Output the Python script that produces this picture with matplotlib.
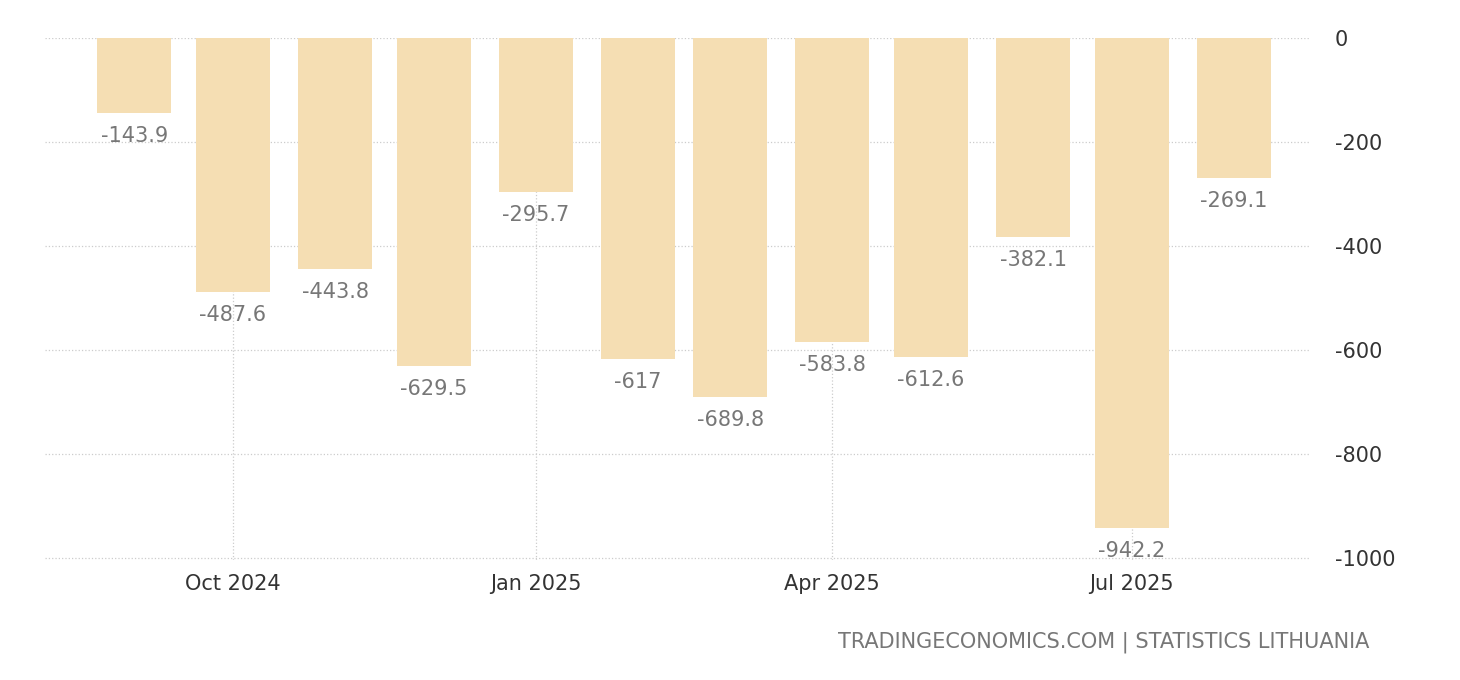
import matplotlib
matplotlib.use("Agg")
import matplotlib.pyplot as plt
import datetime as dt

plt.rcParams['axes.unicode_minus'] = False

months = ["2024-09","2024-10","2024-11","2024-12","2025-01","2025-02","2025-03","2025-04","2025-05","2025-06","2025-07","2025-08"]
values = [-143.9,-487.6,-443.8,-629.5,-295.7,-617,-689.8,-583.8,-612.6,-382.1,-942.2,-269.1]
labels = ["-143.9","-487.6","-443.8","-629.5","-295.7","-617","-689.8","-583.8","-612.6","-382.1","-942.2","-269.1"]
xticks = ["2024-10","2025-01","2025-04","2025-07"]
xticklabels = ["Oct 2024","Jan 2025","Apr 2025","Jul 2025"]

dates = [dt.datetime.strptime(m+"-01","%Y-%m-%d") for m in months]
tdates = [dt.datetime.strptime(m+"-01","%Y-%m-%d") for m in xticks]

fig = plt.figure(figsize=(14.6,6.8),dpi=100)
ax = fig.add_axes([0.031,0.176,0.866,0.768])
ax.bar(dates, values, width=22.5, color="#f5deb3", zorder=2)
for d,v,l in zip(dates,values,labels):
    ax.text(d, v-25, l, ha="center", va="top", fontsize=15, color="#777777")
ax.set_ylim(-1004,0)
ax.set_xlim(dt.datetime(2024,8,5), dt.datetime(2025,8,24))
ax.set_yticks([0,-200,-400,-600,-800,-1000])
ax.set_xticks(tdates)
ax.set_xticklabels(xticklabels)
ax.yaxis.tick_right()
for t in ax.get_yticklabels():
    t.set_ha("left")
ax.tick_params(axis="both", length=0, labelsize=15, colors="#333333")
ax.tick_params(axis="y", pad=18)
ax.tick_params(axis="x", pad=10)
ax.grid(True, color="#cccccc", linestyle=":", linewidth=0.9, zorder=0)
for s in ax.spines.values():
    s.set_visible(False)
fig.text(0.938, 0.055, "TRADINGECONOMICS.COM | STATISTICS LITHUANIA", ha="right", va="center", fontsize=15, color="#777777")
fig.savefig("out.png", dpi=100)
